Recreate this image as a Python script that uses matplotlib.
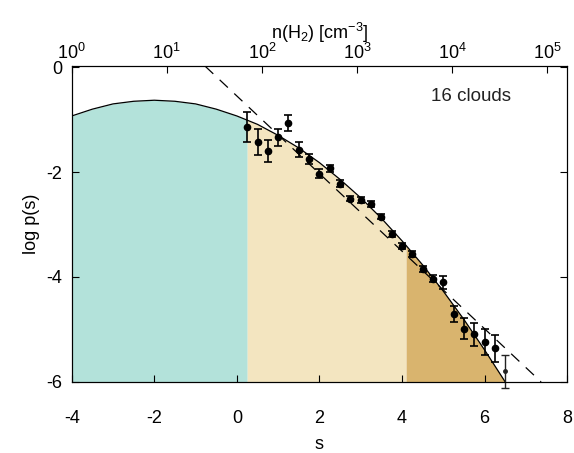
import numpy as np
import matplotlib
matplotlib.use("Agg")
import matplotlib.pyplot as plt

# lognormal-like fit curve
curve_s = [-4.0, -3.5, -3.0, -2.5, -2.0, -1.5, -1.0, -0.5, 0.0, 0.25, 0.5, 1.0, 1.5,
           2.0, 2.5, 3.0, 3.5, 4.0, 4.1, 4.5, 5.0, 5.5, 6.0, 6.5, 7.0]
curve_y = [-0.93, -0.80, -0.70, -0.65, -0.63, -0.65, -0.70, -0.80, -0.93, -1.01, -1.09,
           -1.30, -1.54, -1.82, -2.14, -2.49, -2.88, -3.31, -3.40, -3.77, -4.27, -4.81,
           -5.39, -6.00, -6.65]

# power-law tail (dashed), two ends
dash_s = [-0.77, 7.37]
dash_y = [0.02, -6.0]

# region boundaries of the shading
s_split1 = 0.25
s_split2 = 4.1

# measured PDF points with error bars
pts_s = [0.25, 0.50, 0.75, 1.00, 1.25, 1.50, 1.75, 2.00, 2.25, 2.50, 2.75, 3.00, 3.25,
         3.50, 3.75, 4.00, 4.25, 4.50, 4.75, 5.00, 5.25, 5.50, 5.75, 6.00, 6.25]
pts_y = [-1.14, -1.43, -1.59, -1.34, -1.06, -1.57, -1.75, -2.03, -1.93, -2.22, -2.51,
         -2.53, -2.61, -2.85, -3.18, -3.41, -3.56, -3.85, -4.03, -4.10, -4.71, -4.99,
         -5.09, -5.24, -5.36]
pts_err = [0.29, 0.25, 0.21, 0.17, 0.15, 0.15, 0.09, 0.08, 0.07, 0.07, 0.05, 0.05, 0.05,
           0.05, 0.05, 0.05, 0.05, 0.06, 0.06, 0.12, 0.15, 0.20, 0.22, 0.25, 0.26]
last_s, last_y, last_err = 6.5, -5.80, 0.32

top_ticks = [1e0, 1e1, 1e2, 1e3, 1e4, 1e5]
top_labels = [r"$10^{0}$", r"$10^{1}$", r"$10^{2}$", r"$10^{3}$", r"$10^{4}$", r"$10^{5}$"]

plt.rcParams.update({
    "font.family": ["Liberation Sans", "DejaVu Sans"],
    "mathtext.default": "regular",
    "axes.unicode_minus": False,
    "font.size": 13,
})

fig = plt.figure(figsize=(5.74, 4.53), dpi=100)
ax = fig.add_axes([0.125, 0.157, 0.863, 0.697])

s = np.array(curve_s)
y = np.array(curve_y)
ax.fill_between(s, y, -7, where=s <= s_split1, color="#b3e2da", lw=0, zorder=1)
ax.fill_between(s, y, -7, where=(s >= s_split1) & (s <= s_split2), color="#f3e5c0", lw=0, zorder=1)
ax.fill_between(s, y, -7, where=s >= s_split2, color="#d9b46e", lw=0, zorder=1)

ax.plot(curve_s, curve_y, color="black", lw=0.9, zorder=3)
ax.plot(dash_s, dash_y, color="black", lw=0.9, linestyle=(0, (9, 7)), zorder=3)

ax.errorbar(pts_s, pts_y, yerr=pts_err, fmt="o", color="black", ms=4.5,
            capsize=3, elinewidth=1.2, capthick=1.2, zorder=4)
ax.errorbar([last_s], [last_y], yerr=[last_err], fmt="o", color="#222222", ms=2.5,
            capsize=3, elinewidth=1.0, capthick=1.0, zorder=4, clip_on=False)

ax.text(4.7, -0.55, "16 clouds", fontsize=13.5, ha="left", va="center", color="#222222")

ax.set_xlim(-4, 8)
ax.set_ylim(-6, 0.02)
ax.set_xticks([-4, -2, 0, 2, 4, 6, 8])
ax.set_yticks([-6, -4, -2, 0])
ax.tick_params(direction="in", length=5, right=True, top=False, labelsize=13)
ax.tick_params(axis="x", pad=20)
ax.tick_params(axis="y", pad=7)
ax.set_xlabel("s", fontsize=13, labelpad=7)
ax.set_ylabel("log p(s)", fontsize=13, labelpad=4)

ax2 = ax.twiny()
ax2.set_xscale("log")
ax2.set_xlim(np.exp(0), np.exp(12))
ax2.set_xticks(top_ticks, labels=top_labels)
ax2.minorticks_off()
ax2.tick_params(direction="in", length=5, labelsize=13, pad=2)
ax2.set_xlabel(r"n(H$_2$) [cm$^{-3}$]", fontsize=13, labelpad=3)

fig.savefig("out.png", dpi=100, facecolor="white")
